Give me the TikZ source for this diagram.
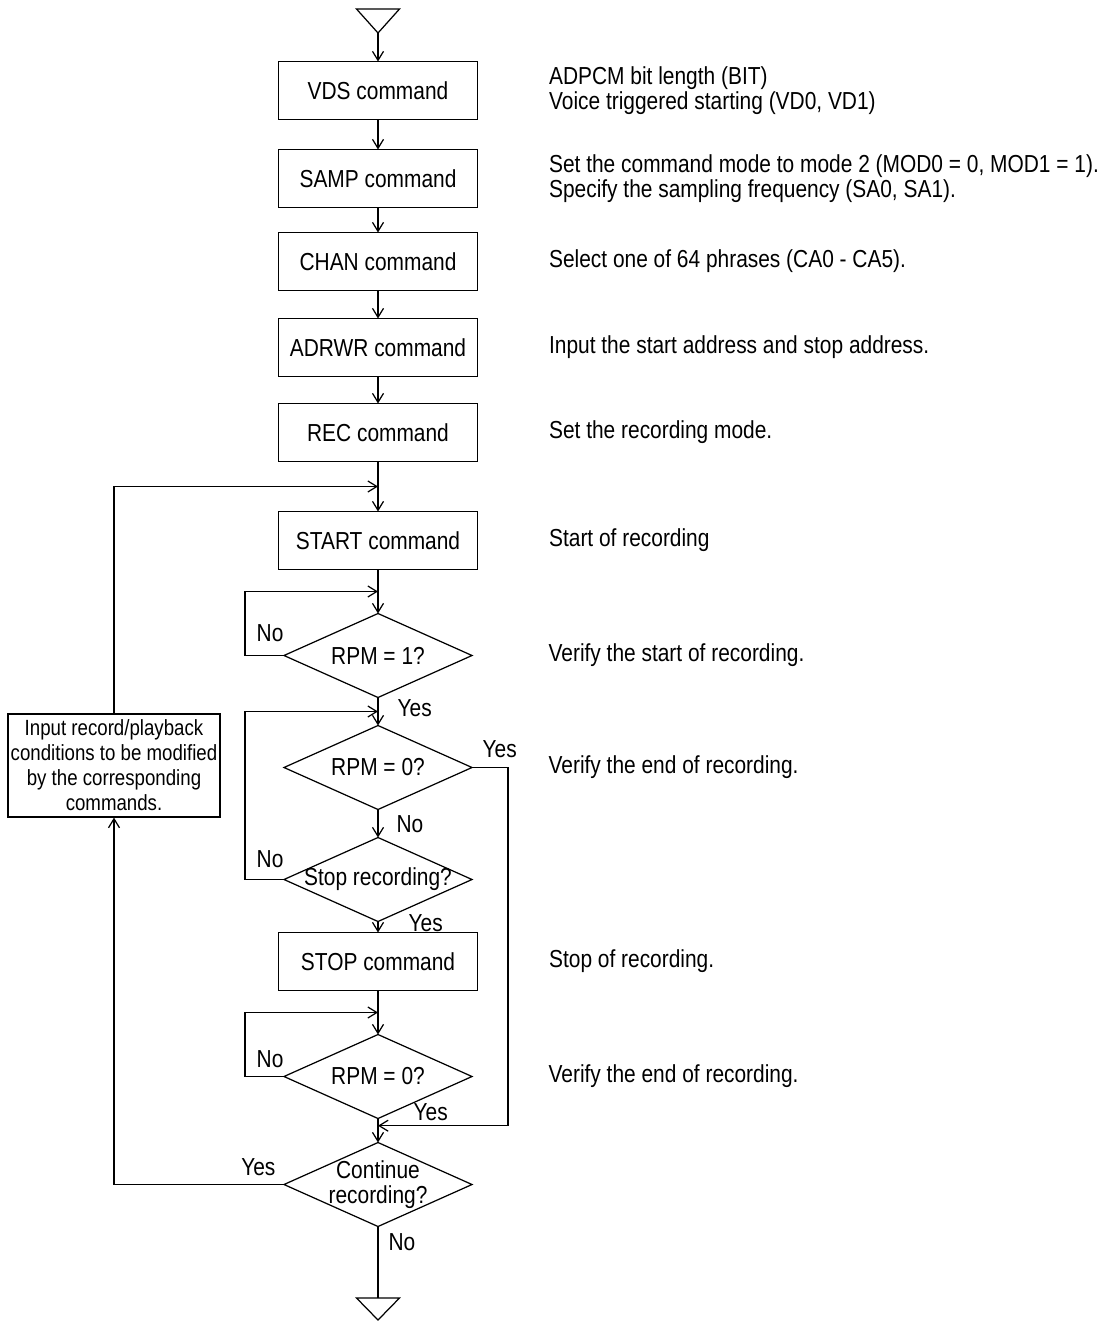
\documentclass[tikz,border=0pt]{standalone}
\usepackage{fontspec}
\setmainfont{Liberation Sans}[FakeStretch=0.85]
\usetikzlibrary{positioning,shapes.geometric,arrows.meta,calc}
\tikzset{
  every node/.style={font=\fontsize{14}{14.2}\selectfont},
  cmdbox/.style={draw, rectangle, minimum width=3.98cm, minimum height=1.16cm, inner sep=0pt, outer sep=0pt},
  testbox/.style={draw, diamond, aspect=2.24, minimum width=3.76cm, minimum height=1.68cm, inner sep=0pt, outer sep=0pt, align=center},
  note/.style={align=left, inner sep=0pt, font=\fontsize{14}{11.4}\selectfont},
  answer/.style={inner sep=0pt},
  flow/.style={-{Straight Barb[length=1.8mm,width=2.2mm]}},
}
\begin{document}
\begin{tikzpicture}[line width=0.7pt]
\useasboundingbox (0,0) rectangle (22.14,-26.42);
\coordinate (topin) at (7.56,-0.66);
\draw (topin) -- ++(-0.43,0.48) -- ++(0.86,0) -- cycle;
\node[cmdbox] (vds) at (7.56,-1.81) {VDS command};
\node[cmdbox, below=0.6cm of vds] (samp) {SAMP command};
\node[cmdbox, below=0.5cm of samp] (chan) {CHAN command};
\node[cmdbox, below=0.56cm of chan] (adrwr) {ADRWR command};
\node[cmdbox, below=0.54cm of adrwr] (rec) {REC command};
\node[cmdbox, below=1.0cm of rec] (start) {START command};
\node[testbox, below=0.88cm of start] (rpmone) {RPM = 1?};
\node[testbox, below=0.56cm of rpmone] (rpmzero) {RPM = 0?};
\node[testbox, below=0.56cm of rpmzero] (stoprec) {\makebox[0pt]{Stop recording?}};
\node[cmdbox, below=0.22cm of stoprec] (stop) {STOP command};
\node[testbox, below=0.88cm of stop] (rpmend) {RPM = 0?};
\node[testbox, below=0.48cm of rpmend, label={[align=center, inner sep=0pt]center:Continue\\recording?}] (cont) {};
\node[draw, align=center, minimum width=4.24cm, minimum height=2.06cm, inner sep=0pt, font=\fontsize{12.5}{14.2}\selectfont] (modify) at (2.28,-15.31) {Input record/playback\\conditions to be modified\\by the corresponding\\commands.};
\coordinate (botout) at (7.56,-25.96);
\draw (botout) -- ++(-0.43,0) -- (7.56,-26.4) -- (7.99,-25.96) -- cycle;

\coordinate (merge1) at ($(rec.south)!0.5!(start.north)$);
\coordinate (j1) at ($(start.south)!0.5!(rpmone.north)$);
\coordinate (j2) at ($(rpmone.south)!0.5!(rpmzero.north)$);
\coordinate (j3) at ($(stop.south)!0.5!(rpmend.north)$);
\coordinate (merge2) at ($(rpmend.south)!0.3!(cont.north)$);
\coordinate (lloop) at (4.9,0);
\coordinate (rloop) at (10.16,0);

\node[note, right=1.42cm of vds] (vdsnote) {ADPCM bit length (BIT)\\Voice triggered starting (VD0, VD1)};
\node[note, right=1.42cm of samp] (sampnote) {Set the command mode to mode 2 (MOD0 = 0, MOD1 = 1).\\Specify the sampling frequency (SA0, SA1).};
\node[note, right=1.42cm of chan] (channote) {Select one of 64 phrases (CA0 - CA5).};
\node[note, right=1.42cm of adrwr] (adrwrnote) {Input the start address and stop address.};
\node[note, right=1.42cm of rec] (recnote) {Set the recording mode.};
\node[note, right=1.42cm of start] (startnote) {Start of recording};
\node[note, right=1.52cm of rpmone] (rpmonenote) {Verify the start of recording.};
\node[note, right=1.52cm of rpmzero] (rpmzeronote) {Verify the end of recording.};
\node[note, right=1.42cm of stop] (stopnote) {Stop of recording.};
\node[note, right=1.52cm of rpmend] (rpmendnote) {Verify the end of recording.};

\node[answer, above left=0.26cm and 0cm of rpmone.west] {No};
\node[answer, below right=0.02cm and 0.38cm of rpmone.south] {Yes};
\node[answer, above right=0.18cm and 0.2cm of rpmzero.east] {Yes};
\node[answer, below right=0.1cm and 0.36cm of rpmzero.south] {No};
\node[answer, above left=0.22cm and 0cm of stoprec.west] {No};
\node[answer, below right=-0.16cm and 0.6cm of stoprec.south] {Yes};
\node[answer, above left=0.16cm and 0cm of rpmend.west] {No};
\node[answer, below right=-0.32cm and 0.7cm of rpmend.south] {Yes};
\node[answer, above left=0.16cm and 0.16cm of cont.west] {Yes};
\node[answer, below right=0.12cm and 0.2cm of cont.south] {No};

\draw[flow] (topin) -- (vds);
\draw[flow] (vds) -- (samp);
\draw[flow] (samp) -- (chan);
\draw[flow] (chan) -- (adrwr);
\draw[flow] (adrwr) -- (rec);
\draw[flow] (rec) -- (start);
\draw[flow] (start) -- (rpmone);
\draw[flow] (rpmone) -- (rpmzero);
\draw[flow] (rpmzero) -- (stoprec);
\draw[flow] (stoprec) -- (stop);
\draw[flow] (stop) -- (rpmend);
\draw[flow] (rpmend) -- (cont);
\draw (cont) -- (botout);
\draw[flow] (rpmone.west) -- (rpmone.west -| lloop) |- (j1);
\draw[flow] (stoprec.west) -- (stoprec.west -| lloop) |- (j2);
\draw[flow] (rpmend.west) -- (rpmend.west -| lloop) |- (j3);
\draw[flow] (rpmzero.east) -- (rpmzero.east -| rloop) |- (merge2);
\draw[flow] (cont.west) -| (modify.south);
\draw[flow] (modify.north) |- (merge1);
\end{tikzpicture}
\end{document}
